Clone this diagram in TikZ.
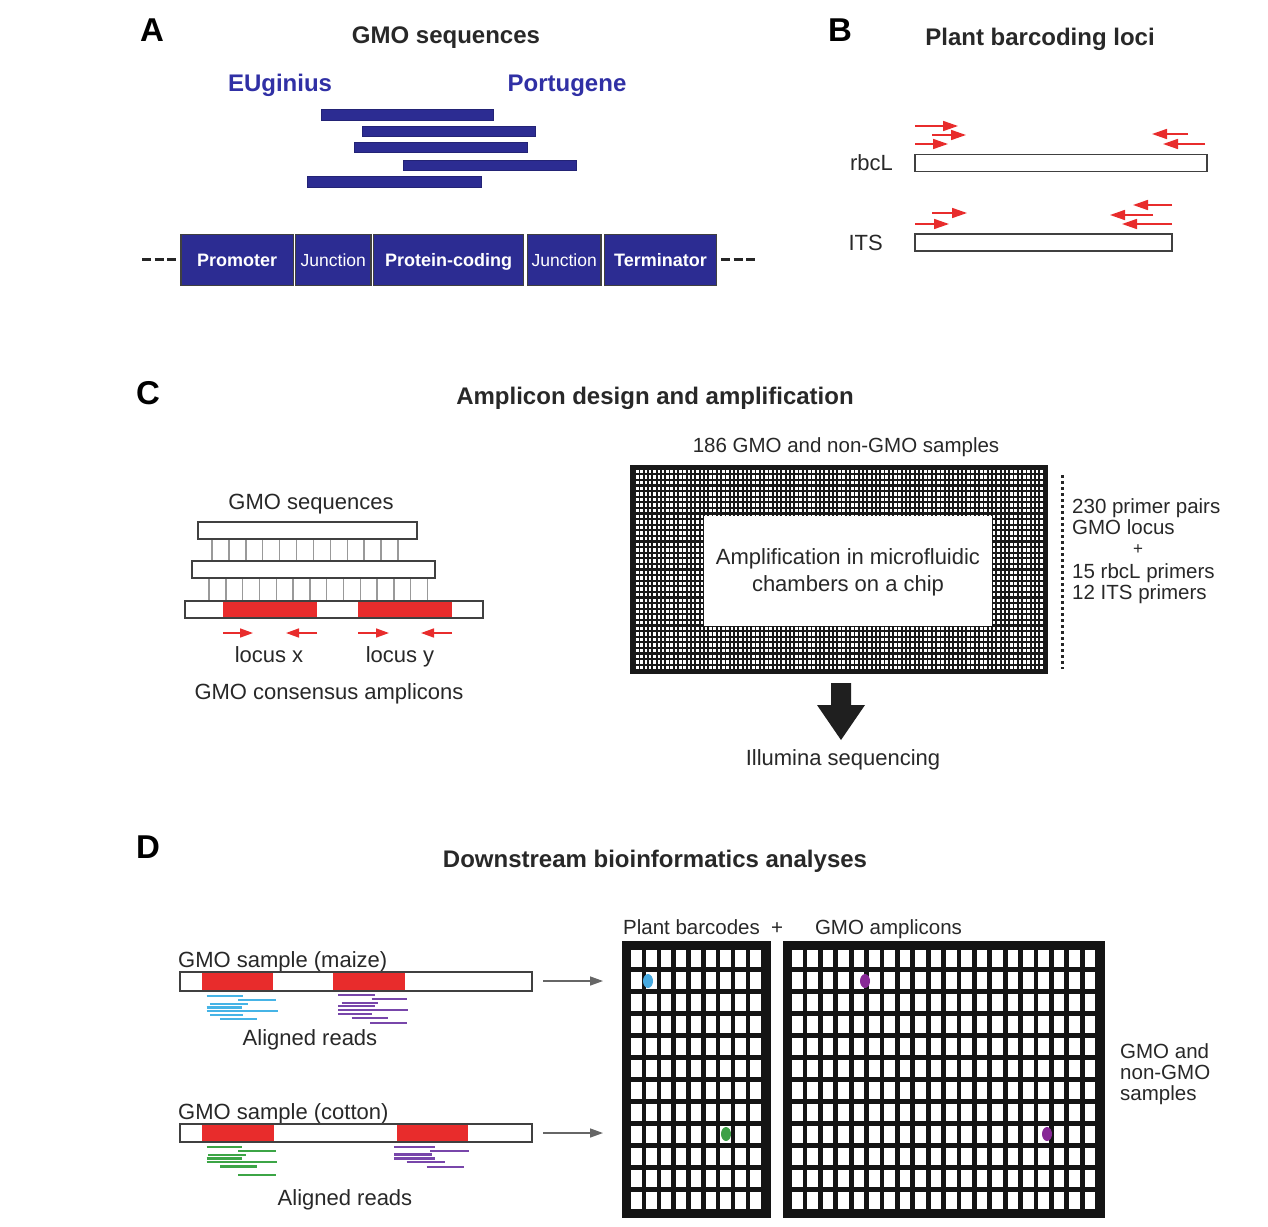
\documentclass[tikz,border=0pt]{standalone}
\usepackage{fontspec}
\setmainfont{Liberation Sans}
\usetikzlibrary{arrows.meta}
\definecolor{navy}{RGB}{44,44,146}
\definecolor{blutxt}{RGB}{48,48,165}
\definecolor{pred}{RGB}{232,44,44}
\definecolor{txt}{RGB}{40,40,40}
\definecolor{cyanr}{RGB}{70,180,230}
\definecolor{purr}{RGB}{120,70,170}
\definecolor{grnr}{RGB}{60,165,70}
\definecolor{pdot}{RGB}{135,40,150}
\definecolor{gdot}{RGB}{60,160,70}
\definecolor{cdot}{RGB}{70,170,225}
\tikzset{
  panel/.style={font=\fontsize{33}{36}\selectfont\bfseries, text=black, inner sep=0, text height=23.8, text depth=0},
  ttl/.style={font=\fontsize{24}{28}\selectfont\bfseries, text=txt, inner sep=0, text height=17.2, text depth=0},
  src/.style={font=\fontsize{24}{28}\selectfont\bfseries, text=blutxt, inner sep=0, text height=17.2, text depth=0},
  abox/.style={draw=black!75, line width=1.4, fill=navy, text=white, minimum height=51.4, inner sep=0, font=\fontsize{18}{20}\selectfont\bfseries, text height=12.9, text depth=0},
  jbox/.style={abox, font=\fontsize{17.5}{20}\selectfont},
  nbar/.style={fill=navy, draw=navy!80!black, line width=0.5, minimum height=10.5, inner sep=0},
  locus/.style={draw=black!75, line width=1.4, fill=white, inner sep=0, minimum height=16.5},
  prm/.style={pred, line width=1.6, -{Triangle[length=15pt,width=10pt]}},
  sprm/.style={pred, line width=1.6, -{Triangle[length=13pt,width=9pt]}},
  rt/.style={font=\fontsize{22}{26}\selectfont, text=txt, inner sep=0, text height=15.8, text depth=0},
  st/.style={font=\fontsize{20.5}{24}\selectfont, text=txt, inner sep=0, text height=14.7, text depth=0},
  ladder/.style={draw=black!40, line width=1.4},
  rdl/.style={line width=2.1},
  garrow/.style={draw=black!60, line width=1.4, -{Triangle[length=13pt,width=9pt]}},
  gdash/.style={line width=3.5, draw=black!85, dash pattern=on 9 off 3.5},
}
\begin{document}
\begin{tikzpicture}[x=1pt,y=-1pt]
\useasboundingbox (0,0) rectangle (1268,1226);
\fill[white] (0,0) rectangle (1268,1226);

% ---------------- Panel A ----------------
\node[panel] (lA) at (152,30) {A};
\node[ttl] (tA) at (446,35) {GMO sequences};
\node[src] (eu) at (280,83) {EUginius};
\node[src] (pt) at (567,83) {Portugene};
\node[nbar, minimum width=172.3] (b1) at (406.9,114.5) {};
\node[nbar, minimum width=173] (b2) at (449.2,131) {};
\node[nbar, minimum width=172.7] (b3) at (440.4,147) {};
\node[nbar, minimum width=173] (b4) at (489.5,165) {};
\node[nbar, minimum width=174] (b5) at (394.7,181.5) {};
\node[abox, minimum width=112.3] (prom) at (237.2,260) {Promoter};
\node[jbox, minimum width=75.3] (j1) at (333.3,260) {Junction};
\node[abox, minimum width=149.6] (pc) at (448.5,260) {Protein-coding};
\node[jbox, minimum width=73.7] (j2) at (564.2,260) {Junction};
\node[abox, minimum width=112.4] (term) at (660.5,260) {Terminator};
\coordinate (dl1) at (142,259.5); \coordinate (dl2) at (176,259.5);
\coordinate (dr1) at (721,259.5); \coordinate (dr2) at (755,259.5);
\draw[gdash] (dl1) -- (dl2);
\draw[gdash] (dr1) -- (dr2);

% ---------------- Panel B ----------------
\node[panel] (lB) at (840,30) {B};
\node[ttl] (tB) at (1040,37) {Plant barcoding loci};
\node[locus, minimum width=292] (rbcl) at (1061,163) {};
\node[rt, anchor=east] (rbcllab) at (893,163) {rbcL};
\node[locus, minimum width=257, minimum height=17] (its) at (1043.5,242.5) {};
\node[rt, anchor=east] (itslab) at (883,243) {ITS};
\draw[prm] (915,126) -- (958,126);
\draw[prm] (932,135) -- (966,135);
\draw[prm] (915,144) -- (948,144);
\draw[prm] (1188,134) -- (1152,134);
\draw[prm] (1205,144) -- (1163,144);
\draw[prm] (932,213) -- (967,213);
\draw[prm] (915,224) -- (949,224);
\draw[prm] (1172,205) -- (1133,205);
\draw[prm] (1153,215) -- (1110,215);
\draw[prm] (1172,224) -- (1122,224);

% ---------------- Panel C ----------------
\node[panel] (lC) at (148,393) {C};
\node[ttl] (tC) at (655,396) {Amplicon design and amplification};
\node[rt] (gs) at (311,502) {GMO sequences};
\foreach \i in {0,...,11} \draw[ladder] (212+\i*16.9,539) -- (212+\i*16.9,561);
\foreach \i in {0,...,13} \draw[ladder] (209+\i*16.8,578) -- (209+\i*16.8,601);
\node[locus, minimum width=219, minimum height=17] (s1) at (307.5,530.5) {};
\node[locus, minimum width=243, minimum height=17] (s2) at (313.5,569.5) {};
\node[locus, minimum width=298, minimum height=17] (cons) at (334,609.5) {};
\fill[pred] (223,601.7) rectangle (317,617.3);
\fill[pred] (358,601.7) rectangle (452,617.3);
\draw[sprm] (223,633) -- (253,633);
\draw[sprm] (317,633) -- (286,633);
\draw[sprm] (358,633) -- (389,633);
\draw[sprm] (452,633) -- (421,633);
\node[rt] (lx) at (269,655) {locus x};
\node[rt] (ly) at (400,655) {locus y};
\node[rt] (gca) at (329,692) {GMO consensus amplicons};

% chip
\node[st] (samp) at (846,445) {186 GMO and non-GMO samples};
\fill[black!90] (630,465) rectangle (1048,674);
\foreach \r in {0,...,35}
  \draw[white, line width=3.3, dash pattern=on 2.5 off 1.8] (636,471.5+\r*5.6) -- (1043,471.5+\r*5.6);
\fill[white] (704,516) rectangle (992,626);
\node[rt] (am1) at (848,557) {Amplification in microfluidic};
\node[rt] (am2) at (848,584) {chambers on a chip};
\coordinate (dt1) at (1062,475); \coordinate (dt2) at (1062,669);
\draw[black!85, line width=3, dash pattern=on 3 off 3] (dt1) -- (dt2);
\node[st, anchor=west] (p1) at (1072,506) {230 primer pairs};
\node[st, anchor=west] (p2) at (1072,527) {GMO locus};
\node[font=\fontsize{17}{18}\selectfont, text=txt, inner sep=0] (p3) at (1138,550) {+};
\node[st, anchor=west] (p4) at (1072,571) {15 rbcL primers};
\node[st, anchor=west] (p5) at (1072,592) {12 ITS primers};
\fill[black!88] (831,683) -- (851,683) -- (851,705) -- (865,705) -- (841,740) -- (817,705) -- (831,705) -- cycle;
\node[rt] (ill) at (843,758) {Illumina sequencing};

% ---------------- Panel D ----------------
\node[panel] (lD) at (148,847) {D};
\node[ttl] (tD) at (655,859) {Downstream bioinformatics analyses};

\node[rt, anchor=west] (mz) at (178,960) {GMO sample (maize)};
\node[locus, minimum width=352, minimum height=19] (mzbar) at (356,981.5) {};
\fill[pred] (202,972.7) rectangle (273,990.3);
\fill[pred] (333,972.7) rectangle (405,990.3);
\foreach \a/\b/\y in {206.7/243.3/996, 238/275.7/1000, 210/247.7/1004, 206.7/241.7/1007.5, 206.7/241.7/1011, 241/277.7/1011, 210/243/1015, 220/256.7/1019.3}
  \draw[rdl, cyanr] (\a,\y) -- (\b,\y);
\foreach \a/\b/\y in {338.3/375/995, 371.7/406.7/999, 341.7/378.3/1002.7, 338.3/375/1006, 338.3/372/1010, 372/408.3/1010, 338.3/371.7/1014, 351.7/388.3/1018, 370/406.7/1022.7}
  \draw[rdl, purr] (\a,\y) -- (\b,\y);
\node[rt] (ar1) at (310,1038) {Aligned reads};

\node[rt, anchor=west] (ct) at (178,1112) {GMO sample (cotton)};
\node[locus, minimum width=352, minimum height=18] (ctbar) at (356,1133) {};
\fill[pred] (202,1124.7) rectangle (274,1141.3);
\fill[pred] (397,1124.7) rectangle (468,1141.3);
\foreach \a/\b/\y in {206.7/241.7/1147.3, 238.3/276/1151, 208.3/246/1155, 206.7/241.7/1158.5, 206.7/241.7/1162, 242/277.3/1162, 220/257.3/1166.5, 238.3/276/1175}
  \draw[rdl, grnr] (\a,\y) -- (\b,\y);
\foreach \a/\b/\y in {394/435/1146.7, 430/469.3/1150.7, 394/431.7/1154.5, 394/435/1158.5, 406.7/445/1162, 426.7/464/1166.7}
  \draw[rdl, purr] (\a,\y) -- (\b,\y);
\node[rt] (ar2) at (345,1198) {Aligned reads};

\coordinate (a1s) at (543,981); \coordinate (a1e) at (603,981);
\coordinate (a2s) at (543,1133); \coordinate (a2e) at (603,1133);
\draw[garrow] (a1s) -- (a1e);
\draw[garrow] (a2s) -- (a2e);

\node[st] (pb) at (691.5,927) {Plant barcodes};
\node[st] (plus) at (777,927) {+};
\node[st] (ga) at (888.5,927) {GMO amplicons};

\fill[black!92] (622,941) rectangle (771,1218);
\foreach \c in {0,...,8} \foreach \r in {0,...,11}
  \fill[white] (631+\c*14.9,949.5+\r*22) rectangle ++(10.6,17.5);
\fill[black!92] (783,941) rectangle (1105,1218);
\foreach \c in {0,...,19} \foreach \r in {0,...,11}
  \fill[white] (792+\c*15.4,949.5+\r*22) rectangle ++(10.5,17.5);
\fill[cdot] (648,981) ellipse [x radius=5, y radius=7];
\fill[gdot] (726,1134) ellipse [x radius=5, y radius=7];
\fill[pdot] (865,981) ellipse [x radius=5, y radius=7];
\fill[pdot] (1047,1134) ellipse [x radius=5, y radius=7];

\node[st, anchor=west] (g1) at (1120,1051) {GMO and};
\node[st, anchor=west] (g2) at (1120,1072) {non-GMO};
\node[st, anchor=west] (g3) at (1120,1093) {samples};
\end{tikzpicture}
\end{document}
